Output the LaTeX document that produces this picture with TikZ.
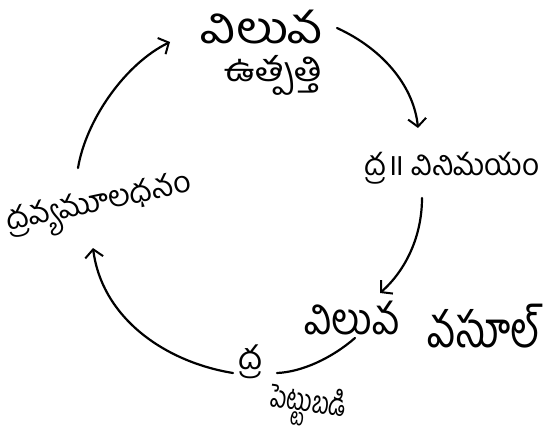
\documentclass[tikz,border=0pt]{standalone}
\usepackage{fontspec}
\usetikzlibrary{arrows.meta}
\newfontfamily\telfont[Script=Telugu]{Hind Guntur}
\newfontfamily\dandafont[Script=Devanagari]{Noto Sans}
\tikzset{
  lbl/.style={inner sep=0pt, outer sep=0pt, font=\telfont},
  cyc/.style={line width=2.2pt, line cap=round, black},
  cycarrow/.style={cyc, -{Straight Barb[length=8pt,width=18pt,line width=2pt]}}
}
\begin{document}
\begin{tikzpicture}[x=1pt,y=-1pt]
\useasboundingbox (0,0) rectangle (547,444);
% labels
\node[lbl] (t1) at (262,27) {\resizebox*{122pt}{34pt}{విలువ}};
\node[lbl] (t2) at (274,75) {\resizebox*{98pt}{40pt}{ఉత్పత్తి}};
\node[lbl] (r1) at (452,168) {\resizebox*{175pt}{32pt}{ద్ర{\dandafont ॥} వినిమయం}};
\node[lbl, rotate=12] (l1) at (100,207) {\resizebox*{188pt}{38pt}{ద్రవ్యమూలధనం}};
\node[lbl] (v1) at (352,318) {\resizebox*{95pt}{34pt}{విలువ}};
\node[lbl] (v2) at (484,326) {\resizebox*{112pt}{44pt}{వసూల్}};
\node[lbl] (b1) at (250,362) {\resizebox*{24pt}{34pt}{ద్ర}};
\node[lbl, rotate=-8] (b2) at (308,406) {\resizebox*{76pt}{42pt}{పెట్టుబడి}};
% connector end points
\coordinate (a1s) at (337,28);
\coordinate (a1e) at (418,128);
\coordinate (a2s) at (422,198);
\coordinate (a2e) at (380,293);
\coordinate (a3s) at (355,338);
\coordinate (a3e) at (277,373);
\coordinate (a4s) at (233,373);
\coordinate (a4e) at (93,248);
\coordinate (a5s) at (78,168);
\coordinate (a5e) at (170,42);
% connectors
\draw[cycarrow] (a1s) .. controls (385,50) and (414,88) .. (a1e);
\draw[cycarrow] (a2s) .. controls (422,236) and (406,270) .. (a2e);
\draw[cyc] (a3s) .. controls (332,358) and (302,372) .. (a3e);
\draw[cycarrow] (a4s) .. controls (165,362) and (102,318) .. (a4e);
\draw[cycarrow] (a5s) .. controls (86,120) and (125,64) .. (a5e);
\end{tikzpicture}
\end{document}
